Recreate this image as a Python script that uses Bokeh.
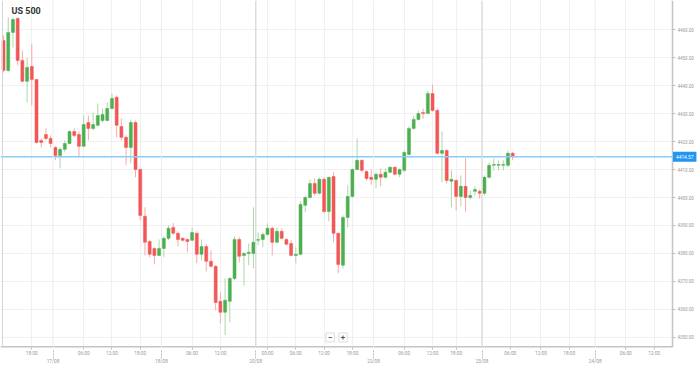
from bokeh.plotting import figure
from bokeh.models import (ColumnDataSource, FixedTicker, LinearAxis, Span, Label,
                          PrintfTickFormatter, Range1d)
from bokeh.embed import file_html
from bokeh.resources import INLINE

title_text = "US 500"
last_price = 4414.57

opens = [4456.1, 4445.4, 4459.0, 4464.0, 4449.0, 4441.5, 4446.8, 4442.2, 4420.4, 4422.5,
         4421.1, 4417.9, 4415.0, 4417.2, 4419.3, 4423.6, 4422.5, 4418.3, 4426.8, 4424.7,
         4425.8, 4427.5, 4427.5, 4431.8, 4435.8, 4425.4, 4421.5, 4417.9, 4426.8, 4410.0,
         4393.3, 4384.3, 4381.8, 4379.3, 4381.8, 4385.4, 4389.3, 4387.2, 4385.4, 4385.0,
         4384.7, 4387.2, 4379.7, 4382.5, 4377.2, 4375.4, 4362.9, 4359.0, 4362.9, 4371.1,
         4385.0, 4379.3, 4380.0, 4380.0, 4384.7, 4385.0, 4386.8, 4389.0, 4384.0, 4387.9,
         4385.0, 4383.6, 4379.3, 4379.7, 4397.2, 4400.0, 4405.0, 4401.5, 4406.5, 4395.0,
         4407.5, 4387.2, 4375.8, 4392.9, 4400.4, 4410.0, 4413.3, 4409.3, 4407.2, 4406.5,
         4408.3, 4407.2, 4409.0, 4410.8, 4408.3, 4409.7, 4415.4, 4424.7, 4427.9, 4430.4,
         4430.0, 4437.2, 4431.1, 4415.8, 4416.8, 4405.8, 4406.1, 4400.4, 4404.0, 4400.0,
         4402.2, 4402.2, 4401.5, 4407.2, 4411.5, 4411.5, 4411.5, 4411.5, 4415.8]

highs = [4457.9, 4464.3, 4464.3, 4464.3, 4452.5, 4450.0, 4455.0, 4442.2, 4421.1, 4424.7,
         4422.2, 4418.3, 4417.9, 4420.4, 4424.0, 4424.7, 4423.6, 4429.3, 4429.3, 4430.4,
         4433.6, 4431.8, 4434.0, 4437.2, 4436.5, 4428.2, 4422.2, 4427.9, 4427.5, 4410.4,
         4396.5, 4384.7, 4382.2, 4385.0, 4386.1, 4390.0, 4390.8, 4387.9, 4385.8, 4385.4,
         4389.3, 4387.9, 4385.0, 4383.3, 4381.1, 4375.8, 4366.1, 4371.1, 4371.5, 4386.1,
         4385.8, 4380.4, 4383.6, 4396.5, 4387.5, 4387.5, 4390.8, 4389.6, 4389.3, 4389.0,
         4385.4, 4384.7, 4382.2, 4398.6, 4400.7, 4406.5, 4406.8, 4407.2, 4407.2, 4407.5,
         4409.0, 4387.5, 4393.6, 4404.3, 4410.4, 4421.1, 4413.6, 4409.7, 4410.0, 4409.0,
         4410.4, 4410.4, 4411.1, 4411.1, 4410.4, 4416.8, 4425.4, 4429.3, 4431.1, 4431.8,
         4438.2, 4440.4, 4431.8, 4423.6, 4417.2, 4409.7, 4406.5, 4407.9, 4414.0, 4402.5,
         4404.0, 4402.9, 4407.9, 4412.5, 4414.0, 4413.3, 4413.3, 4416.8, 4416.4]

lows = [4444.7, 4444.7, 4453.6, 4447.2, 4441.1, 4434.0, 4432.9, 4419.3, 4417.9, 4420.4,
        4417.9, 4413.3, 4410.4, 4416.1, 4419.0, 4421.5, 4414.3, 4418.0, 4420.4, 4424.0,
        4425.4, 4426.8, 4427.2, 4431.5, 4421.5, 4420.4, 4411.5, 4412.2, 4407.2, 4391.8,
        4379.3, 4378.6, 4376.1, 4379.0, 4378.6, 4384.7, 4386.8, 4382.5, 4384.3, 4380.4,
        4384.3, 4376.5, 4377.5, 4373.6, 4375.0, 4359.7, 4355.0, 4350.8, 4355.4, 4370.5,
        4376.8, 4368.6, 4375.8, 4374.7, 4382.9, 4382.2, 4386.4, 4379.3, 4383.6, 4385.0,
        4382.9, 4379.0, 4376.5, 4379.3, 4394.7, 4399.6, 4400.7, 4401.1, 4394.3, 4391.5,
        4384.0, 4372.9, 4374.7, 4389.3, 4400.0, 4409.7, 4409.0, 4406.1, 4404.6, 4403.3,
        4404.0, 4406.8, 4408.6, 4407.9, 4407.2, 4409.0, 4415.0, 4424.3, 4427.5, 4428.2,
        4430.0, 4430.7, 4415.4, 4405.4, 4405.0, 4396.5, 4395.4, 4396.8, 4395.0, 4399.3,
        4400.7, 4399.6, 4400.7, 4406.8, 4409.7, 4409.7, 4409.7, 4410.8, 4413.3]

closes = [4445.4, 4459.0, 4463.6, 4449.0, 4441.5, 4446.5, 4442.2, 4419.7, 4419.7, 4421.1,
          4419.3, 4415.0, 4417.2, 4419.3, 4423.6, 4422.2, 4418.3, 4426.1, 4424.7, 4426.1,
          4429.3, 4429.7, 4431.8, 4435.4, 4425.8, 4421.5, 4417.9, 4426.8, 4410.0, 4393.6,
          4384.0, 4379.7, 4379.3, 4381.8, 4385.4, 4389.0, 4387.2, 4385.0, 4384.7, 4384.3,
          4387.5, 4379.7, 4382.5, 4377.2, 4375.4, 4362.5, 4359.0, 4363.3, 4371.1, 4385.0,
          4379.0, 4380.0, 4380.4, 4384.0, 4385.0, 4386.8, 4389.0, 4384.0, 4387.9, 4385.4,
          4383.3, 4379.3, 4379.7, 4397.5, 4400.0, 4405.0, 4401.5, 4406.5, 4395.0, 4407.2,
          4387.2, 4376.1, 4392.9, 4400.4, 4410.0, 4413.3, 4409.7, 4406.8, 4406.5, 4408.3,
          4407.2, 4409.0, 4410.8, 4408.3, 4410.0, 4416.1, 4424.7, 4427.9, 4430.0, 4430.0,
          4437.2, 4431.1, 4415.8, 4416.8, 4406.1, 4406.5, 4400.4, 4404.0, 4400.0, 4400.7,
          4402.9, 4401.5, 4407.2, 4411.5, 4411.8, 4411.8, 4411.8, 4415.8, 4414.57]

time_ticks = [6, 17, 23, 29, 40, 46, 56, 62, 68, 74, 85, 91, 96, 107.5, 114, 120, 132, 138]
time_labels = ["18:00", "06:00", "12:00", "18:00", "06:00", "12:00", "00:00", "06:00", "12:00",
               "18:00", "06:00", "12:00", "18:00", "06:00", "12:00", "18:00", "06:00", "12:00"]
day_ticks = [10.5, 33.5, 53.5, 78.5, 101.5, 125.5]
day_labels = ["17/08", "18/08", "20/08", "22/08", "23/08", "24/08"]
strong_days = ["20/08", "23/08"]
price_ticks = [4350, 4360, 4370, 4380, 4390, 4400, 4410, 4420, 4430, 4440, 4450, 4460]

FONT = "Roboto"
UP, DOWN = "#4caf50", "#f25656"
UP_W, DOWN_W = "#a9d9aa", "#f7a9a9"
X0, X_AXIS, X1 = -0.64, 141.9, 147.41      # left edge, price-axis position, right edge
Y0, Y1 = 4346.4, 4470.4

idx = list(range(len(opens)))
body = [UP if c >= o else DOWN for o, c in zip(opens, closes)]
wick = [UP_W if c >= o else DOWN_W for o, c in zip(opens, closes)]
src = ColumnDataSource(dict(x=idx, o=opens, h=highs, l=lows, c=closes, body=body, wick=wick))

p = figure(width=698, height=366, output_backend="svg", toolbar_location=None,
           x_range=Range1d(X0, X1), y_range=Range1d(Y0, Y1),
           y_axis_location=None, min_border_left=0, min_border_top=0,
           min_border_right=0, min_border_bottom=0)
p.outline_line_color = None
p.background_fill_color = "white"
p.border_fill_color = "white"

# horizontal grid lines (stop at the price axis)
p.ygrid.visible = False
p.segment(x0=[X0] * len(price_ticks), x1=[X_AXIS] * len(price_ticks),
          y0=price_ticks, y1=price_ticks, line_color="#f0f0f0", line_width=1)

# price axis drawn inside the plot at a fixed position
ya = LinearAxis(fixed_location=X_AXIS, ticker=FixedTicker(ticks=price_ticks),
                formatter=PrintfTickFormatter(format="%.2f"))
ya.major_label_text_font = FONT
ya.major_label_text_font_size = "4.5px"
ya.major_label_text_color = "#9a9a9a"
ya.axis_line_color = "#c4c4c4"
ya.axis_line_width = 1.5
ya.major_tick_in = 0
ya.major_tick_out = 3
ya.major_tick_line_color = "#bdbdbd"
ya.minor_tick_line_color = None
ya.major_label_standoff = 2
p.add_layout(ya, "right")

# x axis (time)
xa = p.xaxis[0]
xa.ticker = FixedTicker(ticks=time_ticks)
xa.major_label_overrides = {t: l for t, l in zip(time_ticks, time_labels)}
xa.major_label_text_font = FONT
xa.major_label_text_font_size = "4.8px"
xa.major_label_text_color = "#9a9a9a"
xa.axis_line_color = None
xa.major_tick_in = 0
xa.major_tick_out = 2
xa.major_tick_line_color = "#bdbdbd"
xa.minor_tick_line_color = None
xa.major_label_standoff = 1

# date axis
da = LinearAxis(ticker=FixedTicker(ticks=day_ticks),
                major_label_overrides={t: l for t, l in zip(day_ticks, day_labels)})
da.major_label_text_font = FONT
da.major_label_text_font_size = "4.8px"
da.major_label_text_color = "#9a9a9a"
da.axis_line_color = None
da.major_tick_in = 9
da.major_tick_out = 0
da.major_tick_line_color = "#bdbdbd"
da.major_tick_line_dash = "2 1"
da.minor_tick_line_color = None
da.major_label_standoff = 0
p.add_layout(da, "below")

# vertical grids
p.xgrid.ticker = FixedTicker(ticks=time_ticks)
p.xgrid.grid_line_color = "#f0f0f0"
for t, lab in zip(day_ticks, day_labels):
    strong = lab in strong_days
    p.add_layout(Span(location=t, dimension="height",
                      line_color="#dcdcdc" if strong else "#ececec",
                      line_width=1.5 if strong else 1))
p.add_layout(Span(location=-0.21, dimension="height", line_color="#d6d6d6", line_width=1))

# bottom axis line, ending at the price axis
p.segment(x0=[X0], x1=[X_AXIS], y0=[Y0], y1=[Y0], line_color="#c4c4c4", line_width=3)

# candles
p.segment(x0="x", y0="l", x1="x", y1="h", line_color="wick", line_width=1, source=src)
p.vbar(x="x", width=0.64, top="o", bottom="c", fill_color="body", line_color="body",
       line_width=0.5, source=src)

# last price line + tag
p.segment(x0=[X0], x1=[X_AXIS], y0=[last_price], y1=[last_price],
          line_color="#8ccbf5", line_width=1.5)
p.add_layout(Label(x=X_AXIS + 0.1, y=last_price, text=f"{last_price:.2f}", text_font=FONT,
                   text_font_size="4.8px", text_color="white", text_align="left",
                   text_baseline="middle", background_fill_color="#2196f3", padding=3))

# title
p.add_layout(Label(x=1.7, y=4466.5, text=title_text, text_font=FONT, text_font_size="9px",
                   text_font_style="bold", text_color="#333333", text_baseline="middle"))

# zoom buttons
for xb, tb in [(69.3, "\u2212"), (72.0, "+")]:
    p.add_layout(Label(x=xb, y=4350.0, text=tb, text_font=FONT, text_font_size="8px",
                       text_font_style="bold", text_color="#555555", text_align="center",
                       text_baseline="middle", background_fill_color="white",
                       border_line_color="#dddddd", padding=2))

open("out.html", "w").write(file_html(p, INLINE))
